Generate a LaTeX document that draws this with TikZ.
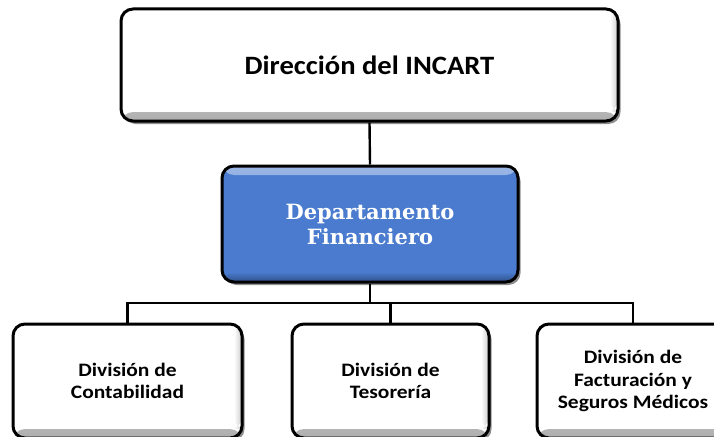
\documentclass[tikz,border=0pt]{standalone}
\usepackage{fontspec}
\setmainfont{Carlito}
\newfontfamily\boxfont[FakeStretch=1.13]{Carlito}
\newfontfamily\topfont[FakeStretch=1.08]{Carlito}
\newfontfamily\deptfont{DejaVu Serif}
\usetikzlibrary{shadows}
\definecolor{deptblue}{RGB}{74,123,207}
\begin{document}
\begin{tikzpicture}[x=1pt,y=1pt,
  shadowed/.style={drop shadow={shadow xshift=2.5pt, shadow yshift=-3pt, opacity=0.55, fill=black!80}},
  box/.style={shadowed, draw=black, line width=3pt, rounded corners=12pt, fill=white,
    align=center, inner sep=0pt,
    font=\boxfont\bfseries\fontsize{19}{22.5}\selectfont,
    path picture={
      \shade[top color=white, bottom color=black!32]
        ([yshift=9pt]path picture bounding box.south west) rectangle (path picture bounding box.south east);
      \shade[left color=white, right color=black!25, opacity=0.8]
        ([xshift=-8pt]path picture bounding box.north east) rectangle ([yshift=9pt]path picture bounding box.south east);
    }},
  deptbox/.style={shadowed, draw=black, line width=3pt, rounded corners=12pt, fill=deptblue,
    align=center, inner sep=0pt, text=white,
    font=\deptfont\bfseries\fontsize{21}{25}\selectfont,
    path picture={
      \shade[top color=deptblue!55!white, bottom color=deptblue]
        (path picture bounding box.north west) rectangle ([yshift=-9pt]path picture bounding box.north east);
      \shade[top color=deptblue, bottom color=deptblue!65!black]
        ([yshift=10pt]path picture bounding box.south west) rectangle (path picture bounding box.south east);
    }},
  link/.style={draw=black, line width=2.4pt}
]
\useasboundingbox (0,0) rectangle (714,-436);
\clip (0,0) rectangle (714,-436);

\node[box, minimum width=497pt, minimum height=112pt,
      font=\topfont\bfseries\fontsize{26.5}{30}\selectfont] (dir) at (369.5,-65) {Dirección del INCART};
\node[deptbox, minimum width=296pt, minimum height=116pt] (dep) at (370,-224) {Departamento\\Financiero};
\node[box, minimum width=229pt, minimum height=114pt] (cont) at (127.5,-381) {División de\\Contabilidad};
\node[box, minimum width=197pt, minimum height=114pt] (tes) at (390.5,-381) {División de\\Tesorería};
\node[box, minimum width=192pt, minimum height=114pt] (fact) at (633,-381) {División de\\Facturación y\\Seguros Médicos};

\coordinate (bus) at (370,-303);
\draw[link] (dir.south) -- (dep.north);
\draw[link] (dep.south) -- (bus);
\draw[link] (cont.north) -- (cont.north |- bus) -- (fact.north |- bus) -- (fact.north);
\draw[link] (tes.north) -- (tes.north |- bus);
\end{tikzpicture}
\end{document}
